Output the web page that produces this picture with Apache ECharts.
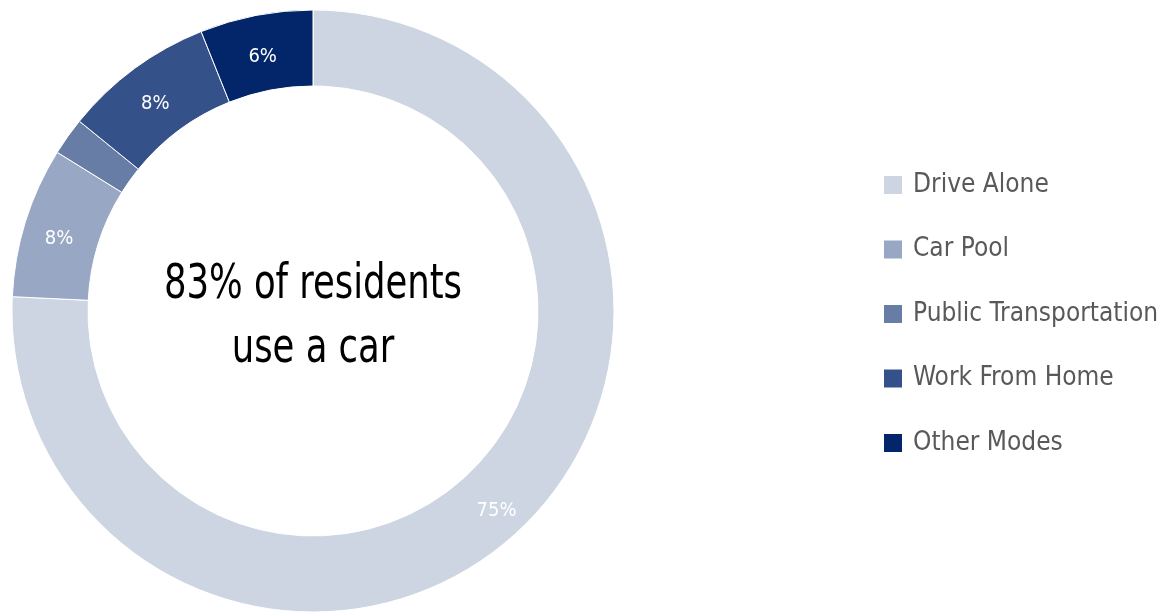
<!DOCTYPE html>
<html>
<head>
<meta charset="utf-8">
<script src="https://cdn.jsdelivr.net/npm/echarts@6/dist/echarts.min.js"></script>
<style>html,body{margin:0;padding:0;background:#fff}#c{width:1165px;height:615px}</style>
</head>
<body>
<div id="c"></div>
<script>
const categories = ['Drive Alone', 'Car Pool', 'Public Transportation', 'Work From Home', 'Other Modes'];
const shares = [75, 8, 2, 8, 6];
const showLabel = [true, true, false, true, true];
const colors = ['#CDD5E2', '#98A7C3', '#687DA6', '#35518A', '#03256A'];
const centerText = '83% of residents\nuse a car';

const FONT = '"DejaVu Sans Condensed", "Liberation Sans Narrow", sans-serif';
const chart = echarts.init(document.getElementById('c'));
chart.setOption({
  animation: false,
  color: colors,
  legend: {
    orient: 'vertical',
    left: 877,
    top: 162,
    itemWidth: 20,
    itemHeight: 20,
    itemGap: 28.5,
    icon: 'rect',
    data: categories,
    textStyle: { fontFamily: FONT, fontSize: 26, color: '#595959', lineHeight: 36, padding: [0, 0, 0, 5] }
  },
  graphic: [{
    type: 'text',
    x: 313, y: 318,
    scaleX: 0.82,
    style: {
      text: centerText,
      font: '48px ' + FONT,
      fill: '#000',
      align: 'center',
      verticalAlign: 'middle',
      lineHeight: 64
    }
  }],
  series: [{
    type: 'pie',
    center: [313, 311],
    radius: [225, 301],
    startAngle: 90,
    clockwise: true,
    avoidLabelOverlap: false,
    itemStyle: { borderColor: '#fff', borderWidth: 1 },
    label: {
      show: true,
      position: 'inside',
      color: '#fff',
      fontFamily: FONT,
      fontSize: 20,
      offset: [0, 7],
      formatter: p => p.value + '%'
    },
    labelLine: { show: false },
    data: categories.map((n, i) => ({ name: n, value: shares[i], label: { show: showLabel[i] } }))
  }]
});
</script>
</body>
</html>
